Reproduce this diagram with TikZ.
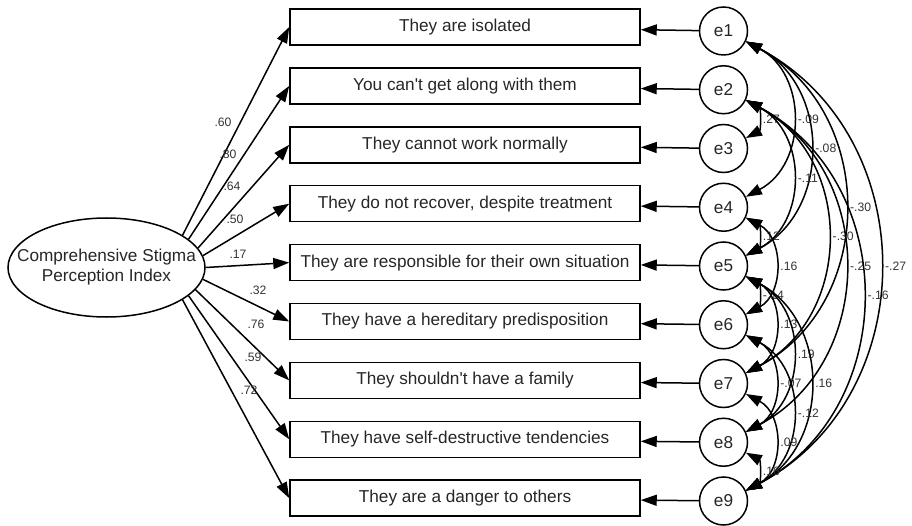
\documentclass[tikz,border=0pt]{standalone}
\usepackage{fontspec}
\newfontfamily\arialfont{Liberation Sans}
\usetikzlibrary{shapes.geometric,arrows.meta}
\tikzset{
  itembox/.style={draw, line width=1.5pt, minimum width=350pt, minimum height=36pt, inner sep=0pt, text=black!85, font=\arialfont\fontsize{17.2}{20}\selectfont},
  errc/.style={draw, circle, line width=1.5pt, minimum size=48pt, inner sep=0pt, text=black!85, font=\arialfont\fontsize{17.2}{20}\selectfont},
  latent/.style={draw, ellipse, line width=1.5pt, minimum width=197pt, minimum height=99pt, inner sep=0pt},
  latenttext/.style={align=center, inner sep=0pt, text=black!85, font=\arialfont\fontsize{17.2}{20}\selectfont},
  arr/.style={line width=1.5pt, -{Triangle[length=16pt,width=11pt]}},
  cov/.style={line width=1.5pt, {Triangle[length=16pt,width=11pt]}-{Triangle[length=16pt,width=11pt]}, bend left=62, looseness=1.15},
  coef/.style={font=\arialfont\fontsize{12.2}{14}\selectfont, inner sep=0pt, text=black!80},
  covlab/.style={font=\arialfont\fontsize{12.2}{14}\selectfont, inner sep=0pt, anchor=west, xshift=5pt, text=black!80}
}
\begin{document}
\begin{tikzpicture}[x=1pt,y=-1pt]
\useasboundingbox (0,0) rectangle (912,526);
\node[latent] (L) at (106.5,267.5) {};
\node[latenttext] (Lt) at (106.5,267.5) {Comprehensive Stigma\\Perception Index};
\node[itembox] (b1) at (465,27)    {They are isolated};
\node[itembox] (b2) at (465,85.9)  {You can't get along with them};
\node[itembox] (b3) at (465,144.8) {They cannot work normally};
\node[itembox] (b4) at (465,203.7) {They do not recover, despite treatment};
\node[itembox] (b5) at (465,262.6) {They are responsible for their own situation};
\node[itembox] (b6) at (465,321.5) {They have a hereditary predisposition};
\node[itembox] (b7) at (465,380.4) {They shouldn't have a family};
\node[itembox] (b8) at (465,439.3) {They have self-destructive tendencies};
\node[itembox] (b9) at (465,498.2) {They are a danger to others};
\foreach \i/\y in {1/31,2/89.75,3/148.5,4/207.25,5/266,6/324.75,7/383.5,8/442.25,9/501}{
  \node[errc] (e\i) at (723.5,\y) {e\i};
  \draw[arr] (e\i) -- (b\i);
}
% loadings
\foreach \i/\a in {1/23,2/19.5,3/12.6,4/7,5/0,6/-7.4,7/-14,8/-19.5,9/-23}{
  \draw[arr] (L.\a) -- (b\i.west);
}
\node[coef] (c1) at (223,122) {.60};
\node[coef] (c2) at (228,154) {.80};
\node[coef] (c3) at (232,186) {.64};
\node[coef] (c4) at (235,219) {.50};
\node[coef] (c5) at (238,254) {.17};
\node[coef] (c6) at (258,290) {.32};
\node[coef] (c7) at (256,324) {.76};
\node[coef] (c8) at (253,357) {.59};
\node[coef] (c9) at (249,390) {.72};
% covariances
\foreach \s/\t/\v in {2/3/.27, 1/4/-.09, 1/5/-.08, 2/5/-.11, 1/7/-.30, 2/7/-.30, 2/8/-.25, 1/9/-.27, 2/9/-.16, 4/5/.12, 4/6/.16, 5/6/-.14, 5/7/.13, 5/8/.19, 6/8/-.07, 5/9/.16, 6/9/-.12, 7/9/.09, 8/9/.16}{
  \draw[cov] (e\s.-25) to node[covlab, pos=0.5] {\v} (e\t.25);
}
\end{tikzpicture}
\end{document}
